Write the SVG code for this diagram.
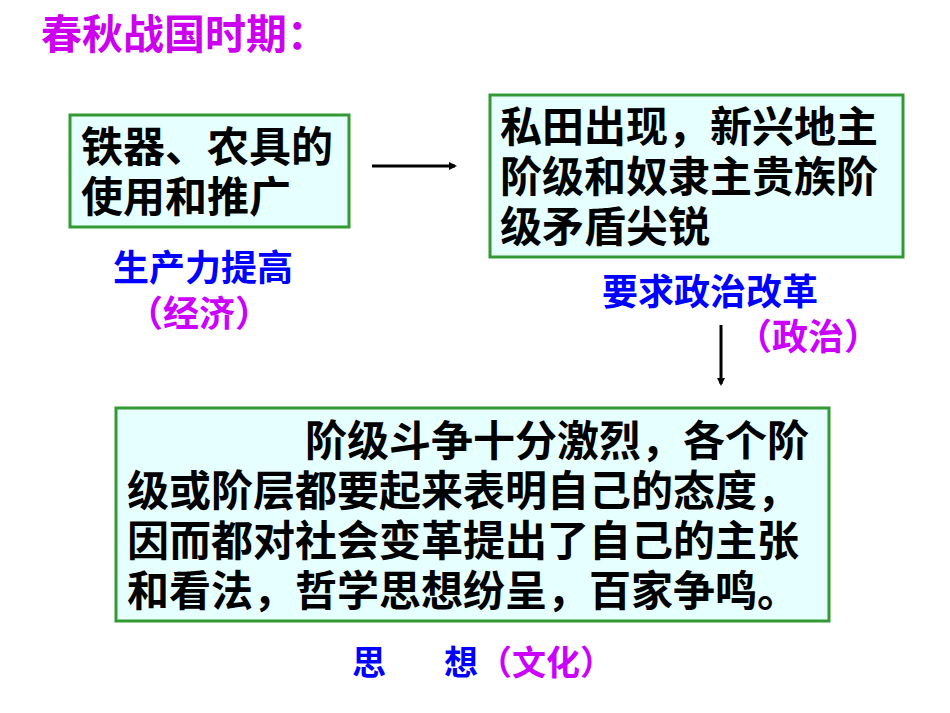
<svg xmlns="http://www.w3.org/2000/svg" width="950" height="713" viewBox="0 0 950 713">
<defs>
<style>
text{font-family:"Noto Sans CJK SC","Liberation Sans",sans-serif;font-weight:bold}
.box{fill:#E6FFFF;stroke:#339933;stroke-width:3}
.body{font-size:42px;fill:#000}
.blue{font-size:36px;fill:#0000FF}
.mag{font-size:36px;fill:#CC00FF}
.sm{font-size:34px}
.conn{stroke:#000;stroke-width:3;fill:none}
</style>
<marker id="ah" markerWidth="8" markerHeight="8" refX="6" refY="4" orient="auto" markerUnits="userSpaceOnUse" viewBox="0 0 8 8">
<path d="M0,0 L8,4 L0,8 Z" fill="#000"/>
</marker>
</defs>
<rect width="950" height="713" fill="#fff"/>
<text id="title" x="41" y="49" font-size="41" fill="#CC00EE">春秋战国时期：</text>
<g id="node-tools">
<rect class="box" x="70" y="115" width="279" height="112"/>
<text class="body" x="81" y="162">铁器、农具的</text>
<text class="body" x="81" y="212">使用和推广</text>
<text class="blue" x="113" y="281">生产力提高</text>
<text class="mag" x="127" y="327">（经济）</text>
</g>
<g id="node-land">
<rect class="box" x="490" y="95" width="413" height="162"/>
<text class="body" x="500" y="142">私田出现，新兴地主</text>
<text class="body" x="500" y="192">阶级和奴隶主贵族阶</text>
<text class="body" x="500" y="242">级矛盾尖锐</text>
<text class="blue" x="602" y="305">要求政治改革</text>
<text class="mag" x="736" y="350">（政治）</text>
</g>
<g id="node-thought">
<rect class="box" x="116" y="408" width="713" height="213"/>
<text class="body" x="305" y="456">阶级斗争十分激烈，各个阶</text>
<text class="body" x="127" y="506">级或阶层都要起来表明自己的态度，</text>
<text class="body" x="127" y="556">因而都对社会变革提出了自己的主张</text>
<text class="body" x="127" y="606">和看法，哲学思想纷呈，百家争鸣。</text>
<text class="blue sm" x="352" y="675">思</text>
<text class="blue sm" x="444" y="675">想<tspan fill="#CC00FF">（文化）</tspan></text>
</g>
<g id="connectors">
<line class="conn" x1="372" y1="166" x2="455" y2="166" marker-end="url(#ah)"/>
<line class="conn" x1="721" y1="325" x2="721" y2="384" marker-end="url(#ah)"/>
</g>
</svg>
